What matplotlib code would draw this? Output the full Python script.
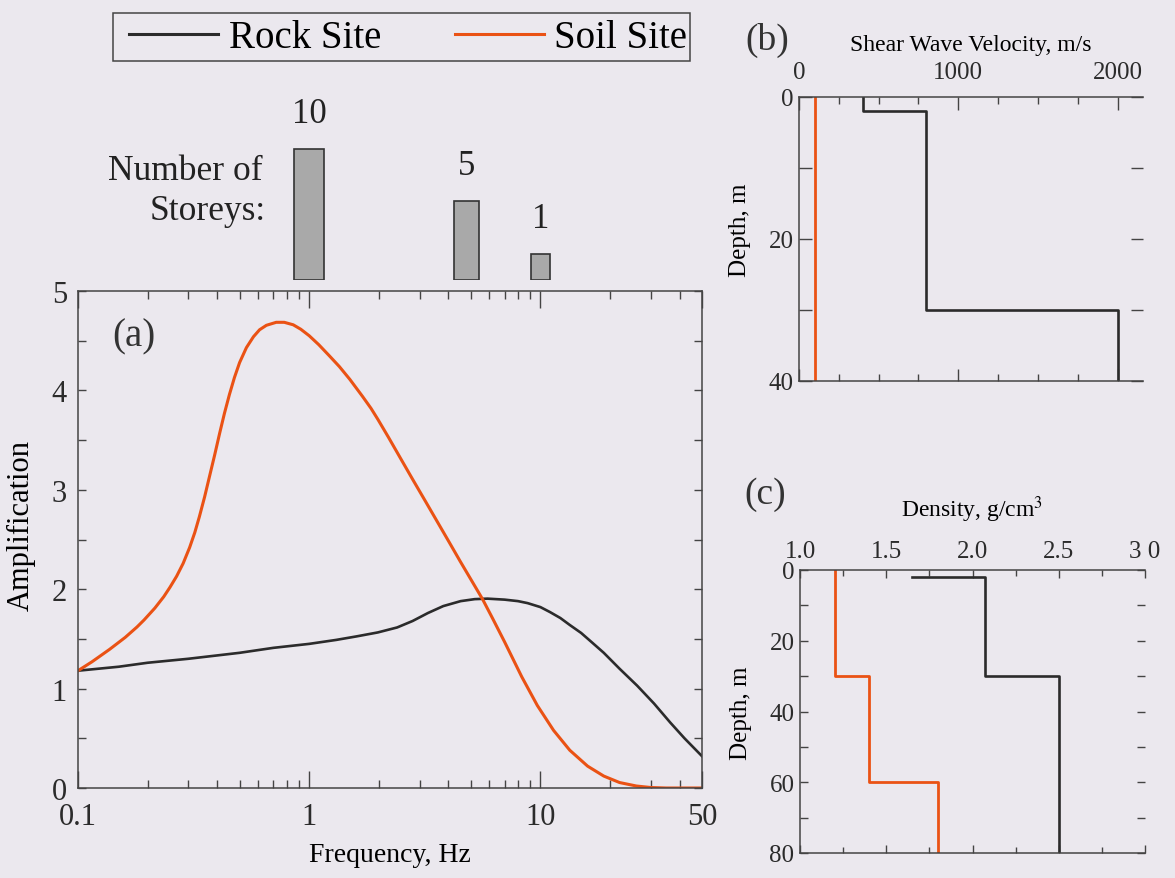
import matplotlib.pyplot as plt
from matplotlib.lines import Line2D
from matplotlib.patches import Rectangle
from matplotlib.ticker import MultipleLocator, FixedLocator, NullFormatter, FixedFormatter

plt.rcParams['font.family'] = ['Liberation Serif', 'DejaVu Serif']
plt.rcParams['mathtext.fontset'] = 'stix'

BG = '#ebe8ee'
ORANGE = '#ea5214'
DARK = '#2b2b2b'

# (a) amplification curves
rock_freq = [0.1, 0.15, 0.2, 0.3, 0.5, 0.7, 1.0, 1.31, 1.6, 1.98, 2.4, 2.8, 3.26, 3.8,
             4.52, 5.2, 5.9, 7.0, 8.0, 8.8, 10.0, 11.0, 12.2, 13.4, 15, 16.8, 18.8, 22,
             26.2, 31, 36.4, 42, 50]
rock_amp = [1.18, 1.22, 1.26, 1.30, 1.36, 1.41, 1.45, 1.49, 1.525, 1.565, 1.615, 1.68, 1.76, 1.83,
            1.88, 1.90, 1.905, 1.895, 1.88, 1.86, 1.82, 1.77, 1.71, 1.64, 1.56, 1.46, 1.36, 1.20,
            1.03, 0.85, 0.66, 0.50, 0.32]

soil_freq = [0.1, 0.115, 0.137, 0.16, 0.18, 0.193, 0.215, 0.235, 0.25, 0.267, 0.285, 0.304,
             0.32, 0.335, 0.353, 0.371, 0.39, 0.41, 0.43, 0.452, 0.475, 0.5, 0.535, 0.574,
             0.61, 0.653, 0.72, 0.78, 0.853, 0.92, 1.0, 1.1, 1.22, 1.35, 1.5, 1.7, 1.85,
             1.98, 2.2, 2.5, 2.81, 3.2, 3.6, 4.05, 4.5, 5.0, 5.62, 6.2, 7.0, 8.3, 9.7, 11.4,
             13.4, 16, 18.8, 22, 26, 30, 35, 50]
soil_amp = [1.18, 1.27, 1.395, 1.515, 1.62, 1.69, 1.81, 1.925, 2.02, 2.13, 2.26, 2.42,
            2.57, 2.73, 2.93, 3.14, 3.35, 3.57, 3.77, 3.96, 4.13, 4.28, 4.43, 4.54,
            4.61, 4.655, 4.685, 4.685, 4.66, 4.615, 4.55, 4.46, 4.35, 4.24, 4.11, 3.94, 3.82,
            3.71, 3.53, 3.305, 3.10, 2.875, 2.67, 2.465, 2.28, 2.10, 1.90, 1.71, 1.47, 1.12, 0.83,
            0.58, 0.38, 0.22, 0.12, 0.055, 0.02, 0.005, 0.0, 0.0]

# building schematic
storeys = [10, 5, 1]
bar_freq = [1.0, 4.8, 10.0]
bar_height = [131, 79, 26]
bar_width_dec = [0.13, 0.11, 0.085]

# (b) shear wave velocity profiles
rock_vs = [400, 400, 800, 800, 2000, 2000]
rock_vs_depth = [0, 2, 2, 30, 30, 40]
soil_vs = [100, 100]
soil_vs_depth = [0, 40]

# (c) density profiles
rock_rho = [1.65, 2.07, 2.07, 2.5, 2.5]
rock_rho_depth = [2, 2, 30, 30, 80]
soil_rho = [1.2, 1.2, 1.4, 1.4, 1.8, 1.8]
soil_rho_depth = [0, 30, 30, 60, 60, 80]

W, H = 1175, 879


def px_axes(fig, x0, y0, x1, y1):
    return fig.add_axes([x0 / W, 1 - y1 / H, (x1 - x0) / W, (y1 - y0) / H])


def style_box(ax, right_spine=True):
    ax.set_facecolor('none')
    for s in ax.spines.values():
        s.set_color('#444444')
        s.set_linewidth(1.1)
    ax.spines['right'].set_visible(right_spine)
    ax.tick_params(which='both', direction='in', top=True, bottom=True, left=True, right=True,
                   color='#444444', width=1.0, labelcolor='#2b2b2b')


fig = plt.figure(figsize=(W / 100, H / 100), dpi=100)
fig.patch.set_facecolor(BG)

# ---- (a) ----
ax = px_axes(fig, 78, 292, 702, 789)
style_box(ax)
ax.plot(rock_freq, rock_amp, color=DARK, lw=1.9)
ax.plot(soil_freq, soil_amp, color=ORANGE, lw=2.2)
ax.set_xscale('log')
ax.set_xlim(0.1, 50)
ax.set_ylim(0, 5)
ax.xaxis.set_major_locator(FixedLocator([0.1, 1, 10, 50]))
ax.xaxis.set_major_formatter(FixedFormatter(['0.1', '1', '10', '50']))
ax.xaxis.set_minor_locator(FixedLocator([0.2, 0.3, 0.4, 0.5, 0.6, 0.7, 0.8, 0.9,
                                         2, 3, 4, 5, 6, 7, 8, 9, 20, 30, 40]))
ax.xaxis.set_minor_formatter(NullFormatter())
ax.yaxis.set_major_locator(MultipleLocator(1))
ax.yaxis.set_minor_locator(MultipleLocator(0.5))
ax.tick_params(axis='x', which='major', length=12, labelsize=22, pad=10)
ax.tick_params(axis='x', which='minor', length=6)
ax.tick_params(axis='y', which='both', length=6, labelsize=22, pad=8)
ax.set_xlabel('Frequency, Hz', fontsize=20, labelpad=8)
ax.set_ylabel('Amplification', fontsize=22)
ax.yaxis.set_label_coords(-0.067, 0.531)
ax.text(0.0897, 0.909, '(a)', transform=ax.transAxes, fontsize=28,
        ha='center', va='center', color='#333333')

# ---- storey bars ----
axb = px_axes(fig, 78, 100, 702, 281)
axb.set_xscale('log')
axb.set_xlim(0.1, 50)
axb.set_ylim(0, 181)
axb.axis('off')
for n, f, h, w in zip(storeys, bar_freq, bar_height, bar_width_dec):
    left = f / 10 ** (w / 2)
    right = f * 10 ** (w / 2)
    axb.bar(left, h, width=right - left, align='edge', color='#a9a9a9',
            edgecolor='#333333', linewidth=1.2)
    axb.annotate(str(n), (f, h), xytext=(0, 14), textcoords='offset points',
                 ha='center', va='bottom', fontsize=25, color='#222222')
fig.text(263 / W, 1 - 172 / H, 'Number of', ha='right', va='center', fontsize=25.5, color='#222222')
fig.text(266 / W, 1 - 212 / H, 'Storeys:', ha='right', va='center', fontsize=25.5, color='#222222')

# legend
fig.patches.append(Rectangle((113 / W, 1 - 62 / H), 577 / W, 48 / H, transform=fig.transFigure,
                             facecolor='none', edgecolor='#444444', linewidth=1.1))
handles = [Line2D([], [], color=DARK, lw=2.2), Line2D([], [], color=ORANGE, lw=2.2)]
fig.legend(handles, ['Rock Site', 'Soil Site'], loc='center left',
           bbox_to_anchor=(129 / W, 1 - 39 / H), ncol=2, fontsize=28, frameon=False,
           handlelength=2.3, handletextpad=0.26, columnspacing=1.9, borderpad=0,
           borderaxespad=0)

# ---- (b) ----
axv = px_axes(fig, 799, 98, 1143, 382)
style_box(axv, right_spine=False)
axv.plot(rock_vs, rock_vs_depth, color=DARK, lw=1.9)
axv.plot(soil_vs, soil_vs_depth, color=ORANGE, lw=2.0)
axv.set_xlim(0, 2160)
axv.set_ylim(40, 0)
axv.xaxis.set_major_locator(MultipleLocator(1000))
axv.xaxis.set_minor_locator(MultipleLocator(250))
axv.yaxis.set_major_locator(MultipleLocator(20))
axv.yaxis.set_minor_locator(MultipleLocator(10))
axv.tick_params(labeltop=True, labelbottom=False)
axv.tick_params(axis='x', which='major', length=9, labelsize=18, pad=10)
axv.tick_params(axis='x', which='minor', length=5)
axv.tick_params(axis='y', which='both', length=9, labelsize=18, pad=4)
axv.xaxis.set_label_position('top')
axv.set_xlabel('Shear Wave Velocity, m/s', fontsize=17, labelpad=8)
axv.set_ylabel('Depth, m', fontsize=18)
axv.yaxis.set_label_coords(-0.14, 0.535)
fig.text(767 / W, 1 - 40 / H, '(b)', ha='center', va='center', fontsize=27, color='#333333')

# ---- (c) ----
axd = px_axes(fig, 800, 571, 1145, 854)
style_box(axd, right_spine=False)
axd.plot(rock_rho, rock_rho_depth, color=DARK, lw=1.9)
axd.plot(soil_rho, soil_rho_depth, color=ORANGE, lw=2.0)
axd.set_xlim(1.0, 3.0)
axd.set_ylim(80, 0)
axd.xaxis.set_major_locator(FixedLocator([1.0, 1.5, 2.0, 2.5, 3.0]))
axd.xaxis.set_major_formatter(FixedFormatter(['1.0', '1.5', '2.0', '2.5', '3 0']))
axd.xaxis.set_minor_locator(MultipleLocator(0.25))
axd.yaxis.set_major_locator(MultipleLocator(20))
axd.yaxis.set_minor_locator(MultipleLocator(10))
axd.tick_params(labeltop=True, labelbottom=False)
axd.tick_params(axis='x', which='major', length=6, labelsize=18, pad=6)
axd.tick_params(axis='x', which='minor', length=4)
axd.tick_params(axis='y', which='both', length=6, labelsize=18, pad=4)
axd.xaxis.set_label_position('top')
axd.set_xlabel('Density, g/cm$^3$', fontsize=17, labelpad=17)
axd.set_ylabel('Depth, m', fontsize=18)
axd.yaxis.set_label_coords(-0.14, 0.498)
fig.text(765 / W, 1 - 495 / H, '(c)', ha='center', va='center', fontsize=27, color='#333333')

fig.savefig('out.png', dpi=100, facecolor=BG)
